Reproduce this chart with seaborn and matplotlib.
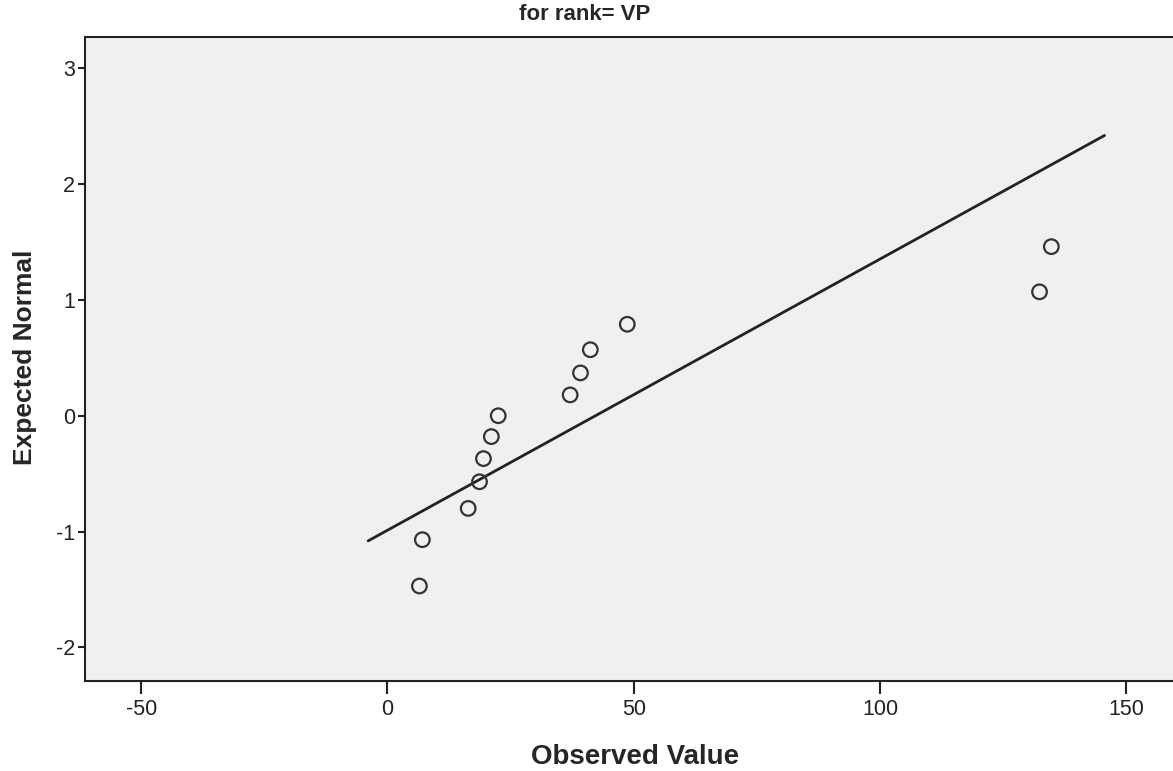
import matplotlib
matplotlib.use("Agg")
import matplotlib.pyplot as plt
import seaborn as sns
import pandas as pd

# Data
observed = [6.5, 7.1, 16.4, 18.7, 19.5, 21.1, 22.5, 37.1, 39.2, 41.2, 48.7, 132.4, 134.8]
expected = [-1.47, -1.07, -0.80, -0.57, -0.37, -0.18, 0.0, 0.18, 0.37, 0.57, 0.79, 1.07, 1.46]
line_x = [-3.9, 145.6]
line_y = [-1.08, 2.42]
x_ticks = [-50, 0, 50, 100, 150]
y_ticks = [-2, -1, 0, 1, 2, 3]
title = "for rank= VP"

sns.set_theme(style="ticks")
plt.rcParams['font.family'] = ['Liberation Sans', 'DejaVu Sans']
plt.rcParams['axes.unicode_minus'] = False

df = pd.DataFrame({"Observed Value": observed, "Expected Normal": expected})
line_df = pd.DataFrame({"x": line_x, "y": line_y})

fig = plt.figure(figsize=(11.73, 7.71), dpi=100)
ax = fig.add_axes([85/1173, 1 - 681/771, 1 - 85/1173, (681 - 37)/771])
ax.set_facecolor("#f0f0f0")

sns.lineplot(data=line_df, x="x", y="y", ax=ax, color="#222222", linewidth=2.0, sort=False)
sns.scatterplot(data=df, x="Observed Value", y="Expected Normal", ax=ax,
                marker="o", s=110, facecolor="none", edgecolor="#333333", linewidth=1.6, zorder=3)

ax.set_xlim(-61.4, 159.5)
ax.set_ylim(-2.29, 3.27)
ax.set_xticks(x_ticks)
ax.set_yticks(y_ticks)
ax.tick_params(axis="both", direction="out", width=1.5, labelsize=15.5, colors="#222222")
ax.tick_params(axis="x", length=9, pad=4)
ax.tick_params(axis="y", length=5, pad=2)

for side in ["left", "bottom", "top"]:
    ax.spines[side].set_linewidth(1.5)
    ax.spines[side].set_color("#222222")
ax.spines["right"].set_visible(False)

ax.set_xlabel("Observed Value", fontsize=20, fontweight="bold", va="center", ha="center")
ax.set_ylabel("Expected Normal", fontsize=19, fontweight="bold", va="center", ha="center")
ax.xaxis.set_label_coords((635 - 85) / 1088, (681 - 757) / 644)
ax.yaxis.set_label_coords((25 - 85) / 1088, (681 - 357) / 644)
fig.text(585/1173, 1 - 14/771, title, ha="center", va="center", fontsize=16, fontweight="bold")

fig.savefig("out.png", dpi=100, facecolor="white")
